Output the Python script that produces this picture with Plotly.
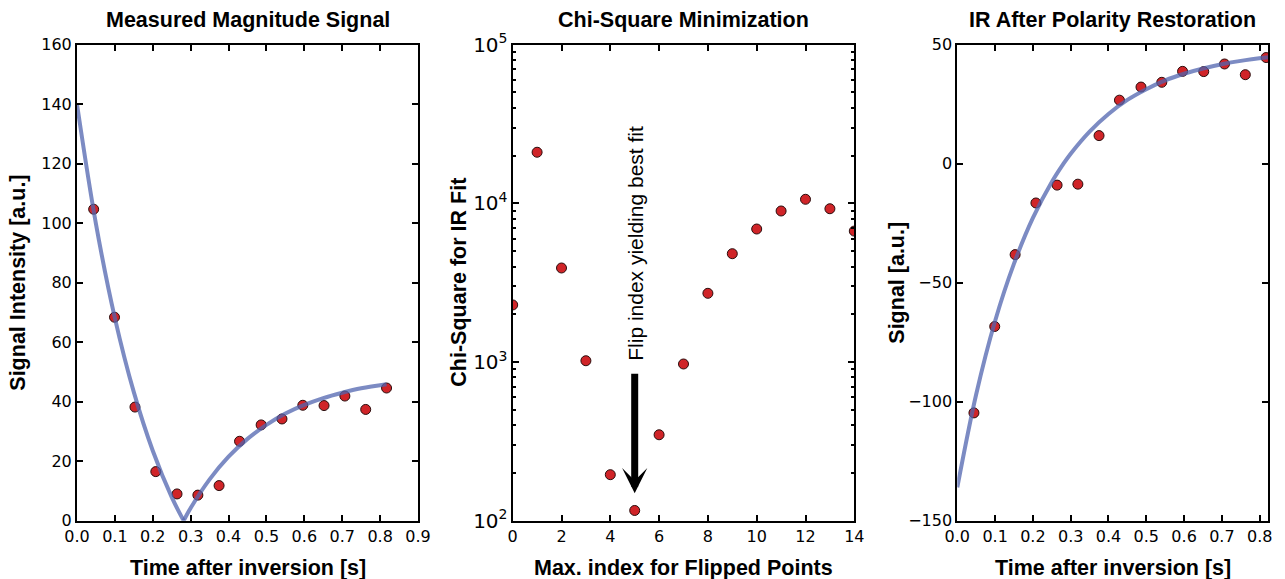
import plotly.graph_objects as go
import math

# ---------------- data ----------------
time_s = [0.044, 0.099, 0.153, 0.208, 0.264, 0.319, 0.375, 0.429, 0.486,
          0.541, 0.596, 0.652, 0.707, 0.762, 0.817]
magnitude = [104.7, 68.4, 38.2, 16.5, 9.0, 8.6, 11.8, 26.7, 32.2,
             34.2, 38.8, 38.7, 41.9, 37.4, 44.6]
restored = [-104.7, -68.4, -38.2, -16.5, -9.0, -8.6, 11.8, 26.7, 32.2,
            34.2, 38.8, 38.7, 41.9, 37.4, 44.6]

# fitted curve
fit_t_mag = [0.0, 0.05, 0.1, 0.15, 0.2, 0.25, 0.2815]
fit_mag_down = [140.0, 99.8, 68.1, 43.2, 23.5, 7.9, 0.0]
fit_t_mag2 = [0.2815, 0.3, 0.35, 0.4, 0.45, 0.5, 0.55, 0.6, 0.65, 0.7, 0.75, 0.817]
fit_mag_up = [0.0, 4.3, 13.9, 21.5, 27.5, 32.2, 36.0, 38.9, 41.2, 43.0, 44.5, 45.9]

fit_t_ir = [0.0, 0.05, 0.1, 0.15, 0.2, 0.25, 0.281, 0.3, 0.35, 0.4, 0.45,
            0.5, 0.55, 0.6, 0.65, 0.7, 0.75, 0.822]
fit_ir = [-136.0, -96.9, -66.1, -42.0, -22.8, -7.7, 0.0, 4.2, 13.5, 20.9, 26.8,
          31.3, 35.0, 37.8, 40.0, 41.8, 43.2, 44.7]

flip_index = list(range(15))
chi_square = [2290, 21000, 3915, 1019, 195, 116, 348, 972, 2711, 4818,
              6893, 8954, 10610, 9250, 6690]
best_index = 5
arrow_tip = 149
arrow_tail = 861
arrow_text_center = 5620

titles = ["Measured Magnitude Signal", "Chi-Square Minimization",
          "IR After Polarity Restoration"]
xlabels = ["Time after inversion [s]", "Max. index for Flipped Points",
           "Time after inversion [s]"]
ylabels = ["Signal Intensity [a.u.]", "Chi-Square for IR Fit", "Signal [a.u.]"]

# ---------------- style ----------------
W, H = 1285, 579
RED = "rgb(208,36,40)"
EDGE = "#2a0d0d"
LINE = "rgba(80,100,175,0.75)"
TICKFONT = dict(family="DejaVu Sans", size=16, color="black")
LABFONT = dict(family="Liberation Sans, Arial", size=21.5, color="black")

dom_x = [(77 / W, 418 / W), (512.7 / W, 854.3 / W), (957.3 / W, 1268.3 / W)]
dom_y = (1 - 520.7 / H, 1 - 44.7 / H)

fig = go.Figure()

marker = dict(color=RED, size=10, line=dict(color=EDGE, width=1))

# left
fig.add_trace(go.Scatter(x=time_s, y=magnitude, mode="markers", marker=marker,
                         xaxis="x", yaxis="y", showlegend=False))
fig.add_trace(go.Scatter(x=fit_t_mag, y=fit_mag_down, mode="lines", line_shape="spline",
                         line=dict(color=LINE, width=4), xaxis="x", yaxis="y",
                         showlegend=False))
fig.add_trace(go.Scatter(x=fit_t_mag2, y=fit_mag_up, mode="lines", line_shape="spline",
                         line=dict(color=LINE, width=4), xaxis="x", yaxis="y",
                         showlegend=False))
# middle
fig.add_trace(go.Scatter(x=flip_index, y=chi_square, mode="markers", marker=marker,
                         xaxis="x2", yaxis="y2", showlegend=False))
# right
fig.add_trace(go.Scatter(x=time_s, y=restored, mode="markers", marker=marker,
                         xaxis="x3", yaxis="y3", showlegend=False))
fig.add_trace(go.Scatter(x=fit_t_ir, y=fit_ir, mode="lines", line_shape="spline",
                         line=dict(color=LINE, width=4), xaxis="x3", yaxis="y3",
                         showlegend=False))

axis_common = dict(showline=True, linecolor="black", linewidth=2, mirror="allticks",
                   ticks="inside", ticklen=6, tickwidth=2, tickcolor="black",
                   showgrid=False, zeroline=False, tickfont=TICKFONT, automargin=False)

fig.update_layout(
    width=W, height=H, margin=dict(l=0, r=0, t=0, b=0, pad=0), autosize=False,
    paper_bgcolor="white", plot_bgcolor="white",
    xaxis=dict(domain=dom_x[0], range=[0, 0.9], tickvals=[i / 10 for i in range(10)],
               ticktext=["%.1f" % (i / 10) for i in range(10)], anchor="y", **axis_common),
    yaxis=dict(domain=dom_y, range=[0, 160], tickvals=list(range(0, 161, 20)),
               anchor="x", **axis_common),
    xaxis2=dict(domain=dom_x[1], range=[0, 14], tickvals=list(range(0, 15, 2)),
                anchor="y2", **axis_common),
    yaxis2=dict(domain=dom_y, type="log", range=[2, 5], dtick=1,
                exponentformat="power", showexponent="all",
                minor=dict(ticks="inside", ticklen=3, tickwidth=1.5, tickcolor="black",
                           dtick="D1", showgrid=False),
                anchor="x2", **axis_common),
    xaxis3=dict(domain=dom_x[2], range=[0, 0.8228], tickvals=[i / 10 for i in range(9)],
                ticktext=["%.1f" % (i / 10) for i in range(9)], anchor="y3", **axis_common),
    yaxis3=dict(domain=dom_y, range=[-150, 50], tickvals=[-150, -100, -50, 0, 50],
                ticktext=["\u2212150", "\u2212100", "\u221250", "0", "50"],
                anchor="x3", **axis_common),
)

ann = []
centers_x = [(a + b) / 2 for a, b in dom_x]
ylab_x = [18 / W, 459 / W, 897 / W]
for i in range(3):
    ann.append(dict(text="<b>%s</b>" % titles[i], x=centers_x[i], y=1 - 20 / H,
                    xref="paper", yref="paper", showarrow=False, font=LABFONT,
                    xanchor="center", yanchor="middle"))
    ann.append(dict(text="<b>%s</b>" % xlabels[i], x=centers_x[i], y=1 - 568 / H,
                    xref="paper", yref="paper", showarrow=False, font=LABFONT,
                    xanchor="center", yanchor="middle"))
    ann.append(dict(text="<b>%s</b>" % ylabels[i], x=ylab_x[i], y=(dom_y[0] + dom_y[1]) / 2,
                    xref="paper", yref="paper", showarrow=False, font=LABFONT,
                    textangle=-90, xanchor="center", yanchor="middle"))

# arrow
ann.append(dict(x=best_index, y=math.log10(arrow_tip), xref="x2", yref="y2",
                ax=best_index, ay=math.log10(arrow_tail), axref="x2", ayref="y2",
                text="", showarrow=True, arrowhead=3, arrowsize=0.6, arrowwidth=7,
                arrowcolor="black", standoff=0, startstandoff=0))
ann.append(dict(x=best_index, y=math.log10(arrow_text_center), xref="x2", yref="y2",
                text="Flip index yielding best fit", showarrow=False, textangle=-90,
                font=dict(family="Liberation Sans, Arial", size=21, color="black"),
                xanchor="center", yanchor="middle"))

fig.update_layout(annotations=ann)
fig.write_html("out.html", config={"displayModeBar": False},
               post_script="document.body.style.margin='0px';"
                           "document.body.style.overflow='hidden';")
